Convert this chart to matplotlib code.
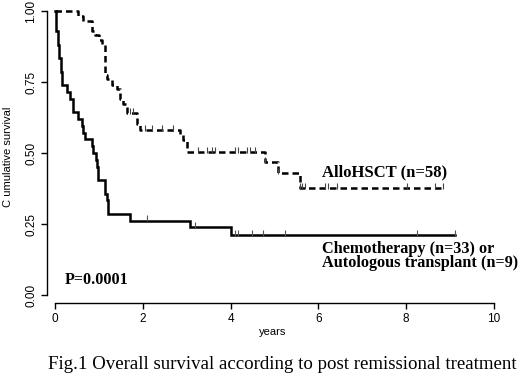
import matplotlib
matplotlib.use("Agg")
import matplotlib.pyplot as plt
import numpy as np

# Chemotherapy / autologous transplant (solid) step curve
chemo_t = [0.00, 0.03, 0.07, 0.10, 0.14, 0.16, 0.27, 0.34, 0.41, 0.52, 0.62, 0.65, 0.68,
           0.84, 0.87, 0.93, 0.96, 0.98, 1.14, 1.18, 1.21, 1.71, 3.08, 4.02]
chemo_s = [1.000, 0.929, 0.881, 0.833, 0.786, 0.738, 0.714, 0.690, 0.643, 0.619, 0.595, 0.571, 0.548,
           0.524, 0.500, 0.476, 0.452, 0.405, 0.357, 0.333, 0.286, 0.262, 0.238, 0.210]
chemo_end = 9.1
chemo_cens = [2.1, 3.2, 4.1, 4.17, 4.49, 4.73, 5.24, 8.25, 9.1]

# AlloHSCT (dashed) step curve
allo_t = [0.00, 0.52, 0.64, 0.84, 0.91, 1.00, 1.07, 1.13, 1.19, 1.30, 1.41, 1.48, 1.55, 1.64,
          1.87, 1.94, 2.85, 2.92, 3.00, 4.78, 5.08, 5.58]
allo_s = [1.000, 0.983, 0.966, 0.931, 0.914, 0.897, 0.879, 0.776, 0.759, 0.741, 0.724, 0.690,
          0.672, 0.641, 0.603, 0.580, 0.563, 0.546, 0.504, 0.468, 0.430, 0.377]
allo_end = 8.84
allo_cens = [1.70, 1.78, 2.05, 2.20, 2.45, 2.68, 3.26, 3.46, 3.58, 3.64, 4.10, 4.17, 4.37, 4.44,
             4.56, 4.78, 5.08, 5.58, 5.63, 5.69, 6.15, 6.22, 6.42, 8.02, 8.66, 8.84]

x_ticks = [0, 2, 4, 6, 8, 10]
y_ticks = [0.00, 0.25, 0.50, 0.75, 1.00]
y_ticklabels = ["0.00", "0.25", "0.50", "0.75", "1.00"]


def surv_at(times, surv, t):
    idx = np.searchsorted(times, t, side="right") - 1
    return surv[idx]


fig = plt.figure(figsize=(5.2, 3.73), dpi=100)
ax = fig.add_axes([47 / 520, 70 / 373, 458 / 520, 300 / 373])

sans = "Liberation Sans"
serif = "Liberation Serif"

# solid curve
ct = list(chemo_t) + [chemo_end]
cs = list(chemo_s) + [chemo_s[-1]]
ax.step(ct, cs, where="post", color="black", lw=1.8, solid_joinstyle="miter")
ax.plot(chemo_cens, [surv_at(chemo_t, chemo_s, t) + 0.008 for t in chemo_cens], ls="none",
        marker="|", ms=5, mew=0.8, color="#555555")

# dashed curve
at = list(allo_t) + [allo_end]
as_ = list(allo_s) + [allo_s[-1]]
ax.step(at, as_, where="post", color="black", lw=1.8, ls=(0, (2.6, 1.6)))
ax.plot(allo_cens, [surv_at(allo_t, allo_s, t) + 0.008 for t in allo_cens], ls="none",
        marker="|", ms=5, mew=0.8, color="#444444")

ax.set_xlim(-0.18, 10.25)
ax.set_ylim(-0.028, 1.028)
for s in ["top", "right"]:
    ax.spines[s].set_visible(False)
ax.spines["left"].set_bounds(0, 1)
ax.spines["bottom"].set_bounds(0, 10)
ax.spines["left"].set_linewidth(1.0)
ax.spines["bottom"].set_linewidth(1.0)

ax.set_xticks(x_ticks)
ax.set_xticklabels([str(v) for v in x_ticks], fontfamily=sans, fontsize=8.5)
ax.set_yticks(y_ticks)
ax.set_yticklabels(y_ticklabels, fontfamily=sans, fontsize=8.5, rotation=90, va="center")
ax.tick_params(axis="both", length=4, width=1.0, pad=3)

ax.text(6.08, 0.43, "AlloHSCT (n=58)", fontfamily=serif, fontweight="bold", fontsize=12,
        ha="left", va="center")
ax.text(6.08, 0.137, "Chemotherapy (n=33) or\nAutologous transplant (n=9)", fontfamily=serif,
        fontweight="bold", fontsize=11.7, ha="left", va="center", linespacing=0.85)
ax.text(0.23, 0.053, "P=0.0001", fontfamily=serif, fontweight="bold", fontsize=11.7,
        ha="left", va="center")

fig.text(273 / 520, 1 - 332 / 373, "years", fontfamily=sans, fontsize=8, ha="center", va="center")
fig.text(8 / 520, 1 - 157 / 373, "C umulative survival", fontfamily=sans, fontsize=8,
         rotation=90, ha="center", va="center")
fig.text(48 / 520, 1 - 369 / 373, "Fig.1 Overall survival according to post remissional treatment",
         fontfamily=serif, fontsize=13.6, ha="left", va="baseline")

fig.savefig("out.png", dpi=100)
